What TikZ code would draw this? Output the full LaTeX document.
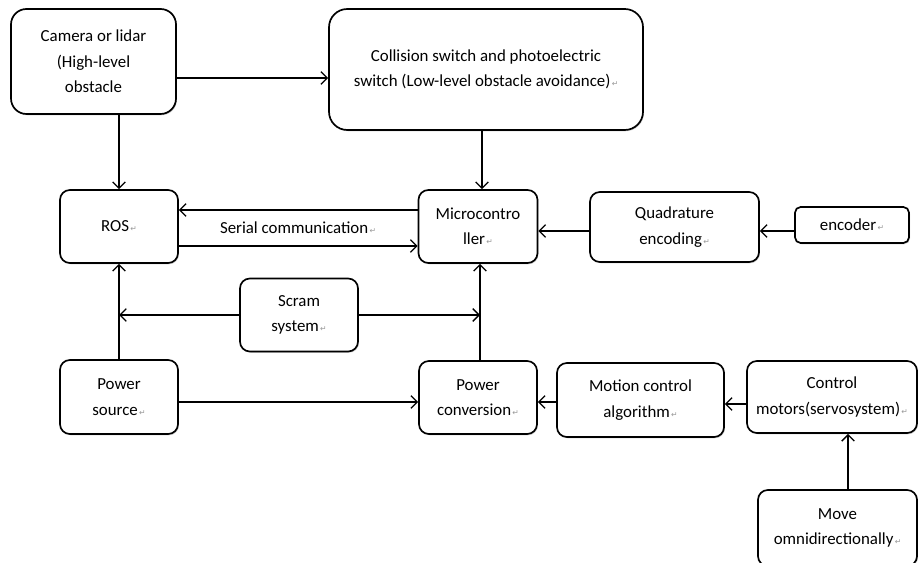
\documentclass[tikz,border=0pt]{standalone}
\usepackage{fontspec}
\setmainfont{Carlito}
\newfontfamily\markfont{DejaVu Sans}
\usetikzlibrary{arrows.meta,shadows}
\newcommand\pmk{{\markfont\fontsize{5.5}{6}\selectfont\color{gray!80}\,↵}}
\def\pxu{0.025cm}
\tikzset{
  block/.style={draw, line width=1.2pt, rounded corners=7pt, align=center, inner sep=1pt,
    font=\fontsize{12}{18}\selectfont, fill=white,
    drop shadow={shadow xshift=0.7pt, shadow yshift=-0.9pt, opacity=0.35, fill=gray}},
  link/.style={line width=0.95pt, -{Straight Barb[length=4.5pt,width=9pt,line width=0.95pt]}}
}
\begin{document}
\begin{tikzpicture}[x=\pxu, y=-\pxu]
       \useasboundingbox (0,0) rectangle (918,563);
       \node (cam) at (93.5,61.5) [block, rounded corners=11pt, minimum width=165*\pxu, minimum height=105*\pxu] {Camera or lidar\\(High-level\\obstacle};
       \node (coll) at (486,69.5) [block, rounded corners=13pt, minimum width=314*\pxu, minimum height=121*\pxu] {Collision switch and photoelectric\\switch (Low-level obstacle avoidance)\pmk};
       \node (ros) at (119,226.5) [block, minimum width=118*\pxu, minimum height=73*\pxu] {ROS\pmk};
       \node (mcu) at (478,226.5) [block, minimum width=119*\pxu, minimum height=73*\pxu] {Microcontro\\ller\pmk};
       \node (quad) at (674.5,227) [block, minimum width=169*\pxu, minimum height=70*\pxu] {Quadrature\\encoding\pmk};
       \node (enc) at (852,225) [block, rounded corners=4pt, minimum width=114*\pxu, minimum height=36*\pxu] {encoder\pmk};
       \node (scram) at (299,315) [block, minimum width=118*\pxu, minimum height=73*\pxu] {Scram\\system\pmk};
       \node (psrc) at (119,397) [block, minimum width=118*\pxu, minimum height=74*\pxu] {Power\\source\pmk};
       \node (pconv) at (478,397.5) [block, minimum width=118*\pxu, minimum height=73*\pxu] {Power\\conversion\pmk};
       \node (motion) at (640.5,400) [block, minimum width=167*\pxu, minimum height=74*\pxu] {Motion control\\algorithm\pmk};
       \node (motor) at (832,397) [block, minimum width=170*\pxu, minimum height=72*\pxu] {Control\\motors(servosystem)\pmk};
       \node (move) at (837.5,528) [block, minimum width=159*\pxu, minimum height=76*\pxu] {Move\\omnidirectionally\pmk};
       \node (serlbl) at (298,228) [font=\fontsize{12}{14}\selectfont] {Serial communication\pmk};
       \coordinate (jl) at (119,315); \coordinate (jr) at (480,315);

       \draw [link] (cam.east |- 0,78) -- (coll.west |- 0,78);
       \draw [link] (ros.north |- cam.south) -- (ros.north);
       \draw [link] (coll.south -| 482,0) -- (mcu.north -| 482,0);
       \draw [link] (mcu.west |- 0,210) -- (ros.east |- 0,210); \draw [link] (ros.east |- 0,246) -- (mcu.west |- 0,246);
       \draw [link] (quad.west |- 0,231) -- (mcu.east |- 0,231); \draw [link] (enc.west |- 0,231) -- (quad.east |- 0,231);
       \draw [link] (scram.west) -- (jl); \draw [link] (scram.east) -- (jr);
       \draw [link] (psrc.north) -- (ros.south);
       \draw [link] (pconv.north -| jr) -- (mcu.south -| jr);
       \draw [link] (psrc.east |- 0,402) -- (pconv.west |- 0,402);
       \draw [link] (motion.west |- 0,402) -- (pconv.east |- 0,402);
       \draw [link] (motor.west |- 0,404) -- (motion.east |- 0,404);
       \draw [link] (move.north -| 848,0) -- (motor.south -| 848,0);
\end{tikzpicture}
\end{document}
